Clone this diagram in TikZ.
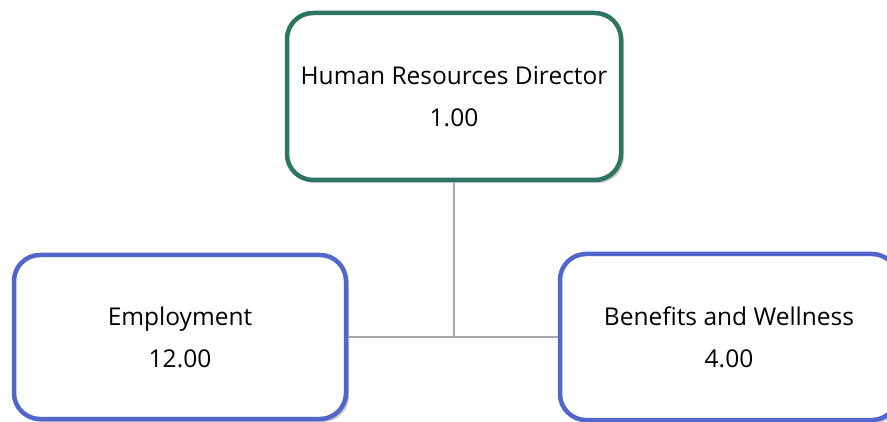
\documentclass[tikz,border=0pt]{standalone}
\usepackage{fontspec}
\setmainfont{Open Sans}
\usetikzlibrary{
positioning,
shadows
}
\definecolor{headgreen}{HTML}{2B7561}
\definecolor{unitblue}{HTML}{5066CA}
\definecolor{linkgray}{HTML}{A6A6A6}
\tikzset{
orgbox/.style={
draw,
line width=4.5pt,
rounded corners=26pt,
align=center,
fill=white,
minimum width=334pt,
minimum height=167pt,
font=\fontsize{24.5}{42}\selectfont,
drop shadow={shadow xshift=3pt,shadow yshift=-3pt,opacity=.35,fill=black!60}
},
headbox/.style={
orgbox,
draw=headgreen
},
unitbox/.style={
orgbox,
draw=unitblue
},
link/.style={
draw=linkgray,
line width=2.5pt
}
}

\begin{document}
\begin{tikzpicture}[x=1pt,y=1pt]
\useasboundingbox (0,0) rectangle (887,-422);
\clip (0,0) rectangle (887,-422);

\node[headbox] (hrd) at (454,-96.5) {Human Resources Director\\1.00};
\node[unitbox, minimum width=332pt, minimum height=164pt] (emp) at (180,-337) {Employment\\12.00};
\node[unitbox, minimum width=338pt, minimum height=166pt] (ben) at (729,-337) {Benefits and Wellness\\4.00};

\draw[link] (hrd.south) -- (hrd.south |- emp.east);
\draw[link] (emp.east) -- (ben.west);

\end{tikzpicture}
\end{document}
